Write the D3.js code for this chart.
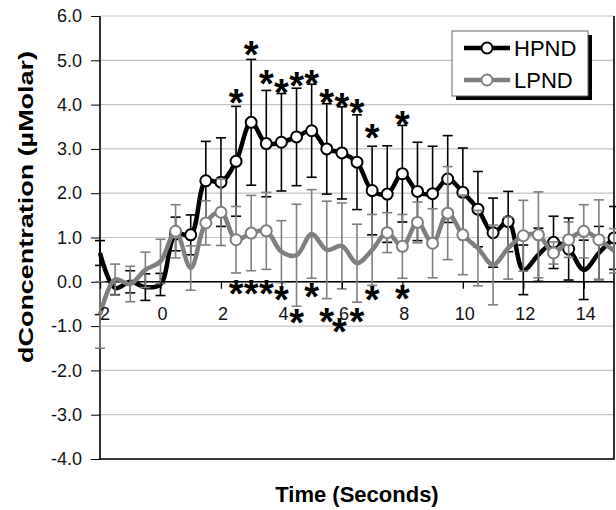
<!DOCTYPE html>
<html>
<head>
<meta charset="utf-8">
<title>HPND vs LPND</title>
<style>
  html, body { margin: 0; padding: 0; background: #fff; }
  svg { display: block; font-family: "Liberation Sans", Arial, sans-serif; }
</style>
<script src="https://d3js.org/d3.v7.min.js"></script>
</head>
<body>
<svg id="chart" width="616" height="510"></svg>
<script>
// time points (s)
const times = [-2, -1.5, -1, -0.5, 0, 0.5, 1, 1.5, 2, 2.5, 3, 3.5, 4, 4.5, 5, 5.5, 6, 6.5,
  7, 7.5, 8, 8.5, 9, 9.5, 10, 10.5, 11, 11.5, 12, 12.5, 13, 13.5, 14, 14.5, 15];

const hpnd = [0.65, -0.14, 0.0, -0.12, -0.06, 1.08, 1.06, 2.28, 2.25, 2.72, 3.6, 3.12, 3.15, 3.27,
  3.41, 3.0, 2.91, 2.7, 2.06, 1.98, 2.44, 2.04, 1.99, 2.32, 2.02, 1.64, 1.11, 1.36, 0.27, 0.61,
  0.89, 0.74, 0.27, 0.65, 0.99];
const hpndErr = [0.28, 0.15, 0.25, 0.3, 0.25, 0.38, 0.45, 0.89, 1.0, 1.24, 1.42, 1.2, 1.1, 1.1,
  1.05, 1.02, 1.04, 1.07, 1.0, 1.09, 1.09, 1.11, 1.07, 0.98, 1.0, 0.85, 0.78, 0.68, 0.56, 0.6,
  0.59, 0.7, 0.67, 0.6, 0.71];

const lpnd = [-0.75, 0.05, -0.05, 0.27, 0.46, 1.14, 0.31, 1.33, 1.57, 0.95, 1.1, 1.15, 0.68, 0.6,
  1.08, 0.72, 0.81, 0.42, 0.72, 1.11, 0.8, 1.34, 0.87, 1.55, 1.06, 0.76, 0.38, 0.76, 1.04, 1.06,
  0.65, 0.95, 1.14, 0.95, 0.7];
const lpndErr = [0.75, 0.35, 0.4, 0.4, 0.5, 0.6, 0.5, 0.5, 0.75, 0.75, 0.85, 0.87, 0.7, 1.15, 1.0,
  1.1, 0.97, 0.88, 0.8, 0.45, 0.72, 0.46, 0.78, 1.05, 0.9, 0.85, 0.9, 0.7, 0.8, 0.97, 0.25, 0.4,
  0.6, 0.9, 0.5];

// points that carry a circle marker
const hpndMarked = [0.5, 1, 1.5, 2, 2.5, 3, 3.5, 4, 4.5, 5, 5.5, 6, 6.5, 7, 7.5, 8, 8.5, 9, 9.5,
  10, 10.5, 11, 11.5, 13, 13.5, 15];
const lpndMarked = [0.5, 1.5, 2, 2.5, 3, 3.5, 7.5, 8, 8.5, 9, 9.5, 10, 12, 12.5, 13, 13.5, 14, 14.5];

// significance asterisks [time, value]
const starsTop = [[2.5, 4.2], [3, 5.28], [3.5, 4.62], [4, 4.41], [4.5, 4.58], [5, 4.62],
  [5.5, 4.19], [6, 4.11], [6.5, 3.96], [7, 3.4], [8, 3.7]];
const starsBottom = [[2.5, -0.12], [3, -0.11], [3.5, -0.11], [4, -0.26], [4.5, -0.78], [5, -0.18],
  [5.5, -0.75], [5.92, -0.97], [6.5, -0.75], [7, -0.26], [8, -0.24]];

const xTicks = [-2, 0, 2, 4, 6, 8, 10, 12, 14];
const yTicks = [-4, -3, -2, -1, 0, 1, 2, 3, 4, 5, 6];

const svg = d3.select("#chart");
const x = d3.scaleLinear().domain([-2, 15]).range([100, 614]);
const y = d3.scaleLinear().domain([-4, 6]).range([459, 16]);

// gridlines
svg.append("g").selectAll("line")
  .data(yTicks)
  .enter().append("line")
  .attr("x1", x(-2)).attr("x2", x(15))
  .attr("y1", d => y(d)).attr("y2", d => y(d))
  .attr("stroke", "#c4c4c4").attr("stroke-width", 1.2);

// plot frame (left, bottom, right)
svg.append("path")
  .attr("d", `M${x(-2)},${y(6)}V${y(-4)}H${x(15)}V${y(6)}`)
  .attr("fill", "none").attr("stroke", "#000").attr("stroke-width", 1.6);

// y axis
const yAxis = svg.append("g")
  .attr("transform", `translate(${x(-2)},0)`)
  .call(d3.axisLeft(y).tickValues(yTicks).tickSize(9).tickPadding(9).tickFormat(d => d.toFixed(1)));
yAxis.select(".domain").remove();
yAxis.selectAll("line").attr("stroke", "#000");
yAxis.selectAll("text").attr("font-size", "18px").attr("fill", "#111")
  .attr("font-family", "Liberation Sans, Arial, sans-serif");

// zero line with ticks
svg.append("line")
  .attr("x1", x(-2)).attr("x2", x(15)).attr("y1", y(0)).attr("y2", y(0))
  .attr("stroke", "#000").attr("stroke-width", 1.6);

const series = [
  {name: "HPND", vals: hpnd, err: hpndErr, marked: hpndMarked, color: "#000"},
  {name: "LPND", vals: lpnd, err: lpndErr, marked: lpndMarked, color: "#7f7f7f"}
];

const line = d3.line()
  .x(d => x(d.t)).y(d => y(d.v))
  .curve(d3.curveCatmullRom.alpha(0.5));

series.forEach(s => {
  const pts = times.map((t, i) => ({t: t, v: s.vals[i], e: s.err[i]}));
  const g = svg.append("g");
  // error bars
  const eb = g.selectAll(".eb").data(pts).enter().append("g")
    .attr("stroke", s.color).attr("stroke-width", 1.6);
  eb.append("line")
    .attr("x1", d => x(d.t)).attr("x2", d => x(d.t))
    .attr("y1", d => y(d.v - d.e)).attr("y2", d => y(d.v + d.e));
  eb.append("line")
    .attr("x1", d => x(d.t) - 5).attr("x2", d => x(d.t) + 5)
    .attr("y1", d => y(d.v + d.e)).attr("y2", d => y(d.v + d.e));
  eb.append("line")
    .attr("x1", d => x(d.t) - 5).attr("x2", d => x(d.t) + 5)
    .attr("y1", d => y(d.v - d.e)).attr("y2", d => y(d.v - d.e));
  // smoothed line
  g.append("path").datum(pts)
    .attr("d", line)
    .attr("fill", "none").attr("stroke", s.color).attr("stroke-width", 4.5)
    .attr("stroke-linejoin", "round");
  // markers
  g.selectAll("circle").data(pts.filter(d => s.marked.includes(d.t))).enter().append("circle")
    .attr("cx", d => x(d.t)).attr("cy", d => y(d.v)).attr("r", 5.5)
    .attr("fill", "#fff").attr("stroke", s.color).attr("stroke-width", 2);
});

// x axis labels on top of the lines
const xAxis = svg.append("g")
  .attr("transform", `translate(0,${y(0)})`)
  .call(d3.axisBottom(x).tickValues(xTicks).tickSize(7).tickPadding(18).tickFormat(d => String(d)));
xAxis.select(".domain").remove();
xAxis.selectAll("line").attr("stroke", "#000").attr("stroke-width", 1.3);
xAxis.selectAll("text").attr("font-size", "18px").attr("fill", "#111").attr("dx", 1.5)
  .attr("font-family", "Liberation Sans, Arial, sans-serif");

// asterisks
svg.append("g").selectAll("text")
  .data(starsTop.concat(starsBottom))
  .enter().append("text")
  .attr("x", d => x(d[0])).attr("y", d => y(d[1]) + 20)
  .attr("text-anchor", "middle")
  .attr("font-size", "38px").attr("font-weight", "bold").attr("fill", "#000")
  .text("*");

// legend
const lg = svg.append("g");
lg.append("rect").attr("x", 456).attr("y", 35).attr("width", 136).attr("height", 65).attr("fill", "#000");
lg.append("rect").attr("x", 452).attr("y", 31).attr("width", 136).attr("height", 65)
  .attr("fill", "#fff").attr("stroke", "#666").attr("stroke-width", 1);
series.forEach((s, i) => {
  const ly = 48 + i * 32;
  lg.append("line").attr("x1", 464).attr("x2", 510).attr("y1", ly).attr("y2", ly)
    .attr("stroke", s.color).attr("stroke-width", 4.5);
  lg.append("circle").attr("cx", 487).attr("cy", ly).attr("r", 5.5)
    .attr("fill", "#fff").attr("stroke", s.color).attr("stroke-width", 2);
  lg.append("text").attr("x", 514).attr("y", ly + 8)
    .attr("font-size", "22px").attr("fill", "#000").text(s.name);
});

// axis titles
svg.append("text")
  .attr("x", 357).attr("y", 502)
  .attr("text-anchor", "middle").attr("font-size", "22px").attr("font-weight", "bold")
  .text("Time (Seconds)");
svg.append("text")
  .attr("transform", "translate(33,207) rotate(-90)")
  .attr("text-anchor", "middle").attr("font-size", "21px").attr("font-weight", "bold")
  .attr("textLength", 312).attr("lengthAdjust", "spacingAndGlyphs")
  .text("dConcentration (µMolar)");
</script>
</body>
</html>
